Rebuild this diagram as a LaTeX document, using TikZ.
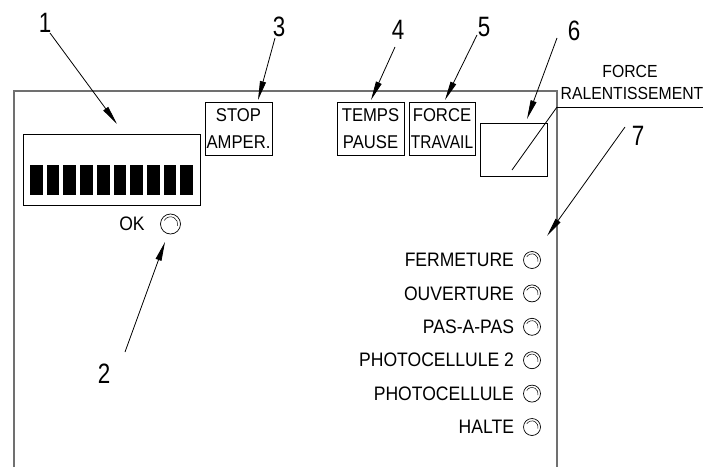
\documentclass[tikz,border=0pt]{standalone}
\usepackage{fontspec}
\setmainfont{Liberation Sans}[FakeStretch=0.9]
\newfontfamily\numfont{Liberation Sans}[FakeStretch=0.8]
\usetikzlibrary{arrows.meta,positioning}
\definecolor{panelgray}{RGB}{112,112,112}
\tikzset{
  panel/.style={panelgray, line width=2pt},
  callout/.style={black, line width=0.8pt,
    -{Triangle[length=19pt,width=6pt]}},
  leader/.style={black, line width=0.8pt},
  number/.style={inner sep=1pt, font=\numfont\fontsize{28}{28}\selectfont},
  labelbox/.style={draw, line width=0.8pt, minimum width=67pt,
    minimum height=53pt, inner sep=0pt, align=center,
    font=\fontsize{18.5}{27}\selectfont},
  ledtext/.style={inner sep=0pt, font=\fontsize{19.5}{22}\selectfont},
  led/.style={circle, draw, line width=0.7pt, minimum size=#1,
    inner sep=0pt,
    path picture={\draw[line width=0.5pt]
      ([shift={(150:0.36*#1)}]path picture bounding box.center)
      arc[start angle=150, end angle=-15, radius=0.36*#1];}},
  led/.default=17pt
}

\begin{document}
\begin{tikzpicture}[x=1pt,y=1pt]
  \useasboundingbox (0,0) rectangle (703,467);

  % Control panel outline
  \draw[panel] (14,0) -- (14,376) -- (557,376) -- (557,0);

  % Display with segment bars
  \node[draw, line width=0.8pt, minimum width=177pt, minimum height=71pt,
    inner sep=0pt] (display) at (111.5,297.5) {};
  \foreach \k in {0,...,9}{
    \fill (30+16.7*\k,272) rectangle ++(12.7,30);
  }
  \node[ledtext] (oktext) at (132,243) {OK};
  \node[led=20pt] (okled) at (170.5,243) {};

  % Adjustment boxes
  \node[labelbox] (box3) at (238.5,338.5) {STOP\\AMPER.};
  \node[labelbox] (box4) at (370.5,338.5) {TEMPS\\PAUSE};
  \node[labelbox, minimum width=66pt] (box5) at (442,338.5)
    {FORCE\\\scalebox{0.93}[1]{TRAVAIL}};
  \node[labelbox] (box6) at (513.5,317.5) {};

  % Slow-down label with leader
  \node[ledtext, anchor=base, font=\fontsize{17.5}{20}\selectfont]
    (force6) at (630,389) {FORCE};
  \node[ledtext, anchor=base, font=\fontsize{17.5}{20}\selectfont]
    (ralent) at (632,368) {RALENTISSEMENT};
  \coordinate (lead) at (557,360);
  \coordinate (leadend) at (512,297);
  \draw[leader] (lead) -- ++(146,0);
  \draw[leader] (lead) -- (leadend);

  % Status lamps
  \foreach \lbl [count=\i] in {FERMETURE,OUVERTURE,PAS-A-PAS,
      PHOTOCELLULE 2,PHOTOCELLULE,HALTE}{
    \node[led] (led\i) at (532,240.4-33.4*\i) {};
    \node[ledtext, left=9pt of led\i] (txt\i) {\lbl};
  }

  % Reference numbers
  \node[number] (n1) at (45,444) {1};
  \node[number] (n2) at (104,93) {2};
  \node[number] (n3) at (279,440) {3};
  \node[number] (n4) at (398,437) {4};
  \node[number] (n5) at (484,440) {5};
  \node[number] (n6) at (574,436) {6};
  \node[number] (n7) at (638,331) {7};

  % Callout arrows
  \coordinate (a1) at (50,434);   \coordinate (b1) at (117,343);
  \coordinate (a2) at (125,115);  \coordinate (b2) at (165,225);
  \coordinate (a3) at (275,429);  \coordinate (b3) at (258,367);
  \coordinate (a4) at (395,420);  \coordinate (b4) at (371,367);
  \coordinate (a5) at (477,432);  \coordinate (b5) at (445,367);
  \coordinate (a6) at (557,429);  \coordinate (b6) at (527,348);
  \coordinate (a7) at (625,340);  \coordinate (b7) at (547,231);
  \foreach \i in {1,...,7}{
    \draw[callout] (a\i) -- (b\i);
  }
\end{tikzpicture}
\end{document}
